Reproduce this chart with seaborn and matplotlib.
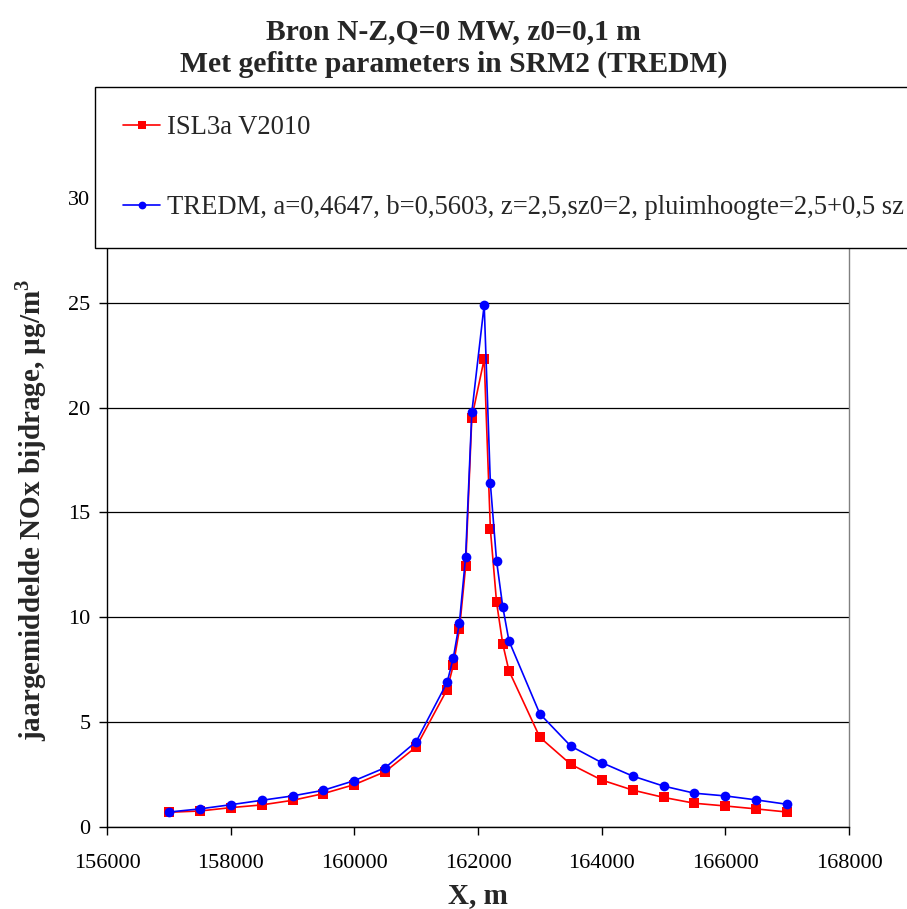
import numpy as np
import pandas as pd
import matplotlib
matplotlib.use("Agg")
import matplotlib.pyplot as plt
import seaborn as sns

# ---- data ----
x_m = [157000, 157500, 158000, 158500, 159000, 159500, 160000, 160500, 161000,
       161500, 161600, 161700, 161800, 161900, 162100, 162200, 162300, 162400,
       162500, 163000, 163500, 164000, 164500, 165000, 165500, 166000, 166500,
       167000]
isl3a = [0.68, 0.74, 0.90, 1.03, 1.25, 1.57, 2.00, 2.62, 3.80,
         6.54, 7.69, 9.42, 12.42, 19.52, 22.32, 14.20, 10.71, 8.72,
         7.44, 4.26, 2.97, 2.22, 1.74, 1.39, 1.11, 0.98, 0.84,
         0.69]
tredm = [0.69, 0.84, 1.04, 1.25, 1.46, 1.73, 2.19, 2.81, 4.05,
         6.88, 8.04, 9.74, 12.89, 19.77, 24.91, 16.38, 12.69, 10.50,
         8.87, 5.38, 3.84, 3.05, 2.41, 1.93, 1.59, 1.46, 1.27,
         1.06]
label_isl = "ISL3a V2010"
label_tredm = "TREDM, a=0,4647, b=0,5603, z=2,5,sz0=2, pluimhoogte=2,5+0,5 sz"
x_ticks = [156000, 158000, 160000, 162000, 164000, 166000, 168000]
y_ticks = [0, 5, 10, 15, 20, 25, 30]

sns.set_style("ticks")
plt.rcParams['font.family'] = ['Liberation Serif', 'DejaVu Serif']
plt.rcParams['mathtext.fontset'] = 'custom'
plt.rcParams['mathtext.rm'] = 'Liberation Serif'
plt.rcParams['mathtext.bf'] = 'Liberation Serif:bold'

W, H = 907, 909
fig = plt.figure(figsize=(W / 100, H / 100), dpi=100)
ax = fig.add_axes([107 / W, 1 - 826.5 / H, 742 / W, 733 / H])

df_isl = pd.DataFrame({"x": x_m, "y": isl3a})
df_tr = pd.DataFrame({"x": x_m, "y": tredm})

sns.lineplot(data=df_isl, x="x", y="y", ax=ax, color="#FF0000", marker="s",
             markersize=6.5, markeredgewidth=0, linewidth=1.2, label=label_isl)
sns.lineplot(data=df_tr, x="x", y="y", ax=ax, color="#0000FF", marker="o",
             markersize=7, markeredgewidth=0, linewidth=1.2, label=label_tredm)

ax.set_xlim(156000, 168000)
ax.set_ylim(0, 35)
ax.set_xticks(x_ticks)
ax.set_xticklabels([str(v) for v in x_ticks])
ax.set_yticks(y_ticks)
ax.set_yticklabels([str(v) for v in y_ticks])
ax.tick_params(axis='both', direction='out', length=6, width=1, colors='black',
               labelsize=16)
ax.tick_params(axis='x', pad=14)
ax.tick_params(axis='y', pad=6)

ax.grid(axis='y', color='black', linewidth=0.9)
ax.grid(axis='x', visible=False)
for s in ['left', 'bottom']:
    ax.spines[s].set_color('black')
    ax.spines[s].set_linewidth(1.0)
for s in ['right', 'top']:
    ax.spines[s].set_color('#808080')
    ax.spines[s].set_linewidth(1.0)
    ax.spines[s].set_visible(True)

ax.set_xlabel("X, m", fontsize=21, fontweight='bold', labelpad=6)
ax.set_ylabel(r"jaargemiddelde NOx bijdrage, µg/m$^{\mathbf{3}}$", fontsize=21,
              fontweight='bold')
ax.yaxis.set_label_coords(-0.078, 0.432)

handles, labels = ax.get_legend_handles_labels()
if ax.get_legend() is not None:
    ax.get_legend().remove()
leg = fig.legend(handles, labels, loc='upper left',
                 bbox_to_anchor=(95 / W, 1 - 87 / H), bbox_transform=fig.transFigure,
                 borderaxespad=0, fontsize=19.2, frameon=True, fancybox=False,
                 edgecolor='black', framealpha=1, borderpad=1.05,
                 labelspacing=2.06, handlelength=1.4, handletextpad=0.24,
                 markerscale=0.8)
leg.get_frame().set_linewidth(1.0)

fig.text(0.5, 1 - 39 / H, "Bron N-Z,Q=0 MW, z0=0,1 m", ha='center', va='baseline',
         fontsize=21.3, fontweight='bold')
fig.text(0.5, 1 - 72 / H, "Met gefitte parameters in SRM2 (TREDM)", ha='center',
         va='baseline', fontsize=21.3, fontweight='bold')

fig.savefig("out.png", dpi=100)
